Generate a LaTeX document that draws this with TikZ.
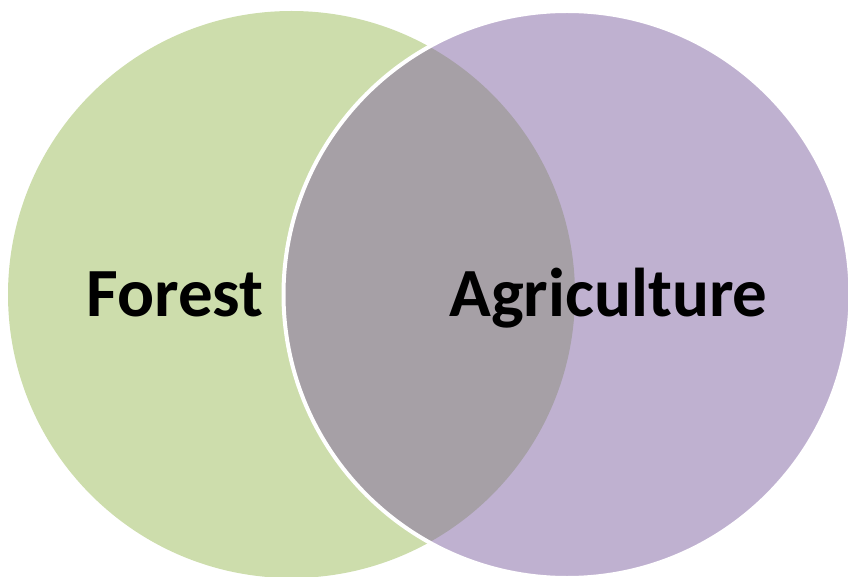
\documentclass[tikz,border=0pt]{standalone}
\usepackage{fontspec}
\setmainfont{Carlito}
\definecolor{forestgreen}{HTML}{9BBB59}
\definecolor{agripurple}{HTML}{8064A2}
\tikzset{
  setcircle/.style={circle, minimum size=567pt, inner sep=0pt, fill opacity=0.5},
  setlabel/.style={anchor=base, font=\bfseries\fontsize{69}{83}\selectfont, text=black, inner sep=0pt}
}
\begin{document}
\begin{tikzpicture}[x=1pt,y=-1pt]
\useasboundingbox (0,0) rectangle (848,577);
\clip (0,0) rectangle (848,577);
\node[setcircle, fill=forestgreen] (forest) at (291.5,294.5) {};
\node[setcircle, fill=agripurple, draw=white, draw opacity=1, line width=4pt] (agri) at (567,294.5) {};
\node[setlabel] (forestlabel) at (175,316) {Forest};
\node[setlabel] (agrilabel) at (608.5,316) {Agriculture};
\end{tikzpicture}
\end{document}
